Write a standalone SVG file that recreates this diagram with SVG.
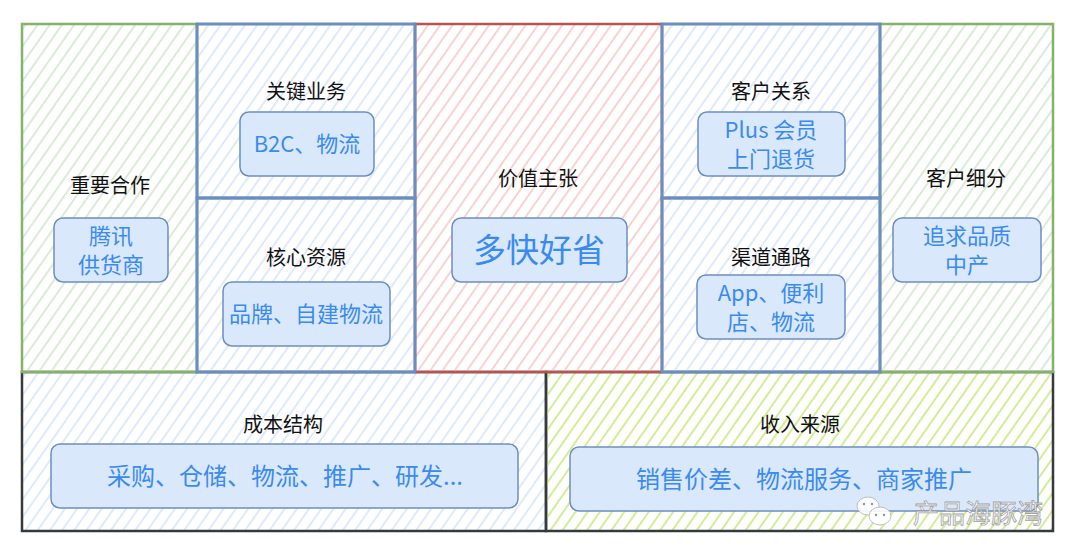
<svg xmlns="http://www.w3.org/2000/svg" width="1080" height="560" viewBox="0 0 1080 560">
<style>
.t{font-family:"Noto Sans CJK SC","Noto Sans",sans-serif;font-size:20px;fill:#111;text-anchor:middle}
.v{font-family:"Noto Sans CJK SC","Noto Sans",sans-serif;font-size:22px;fill:#3a8bef;text-anchor:middle}
.w{font-size:24px}
.box{fill:#dae8fc;stroke:#6c8ebf;stroke-width:1.5}
.g{stroke:#82b366;stroke-width:2.5}
.b{stroke:#6c8ebf;stroke-width:3}
.r{stroke:#b85450;stroke-width:2.5}
.k{stroke:#36393d;stroke-width:2.5}
</style>
<defs>
<pattern id="hg" width="10" height="10" patternUnits="userSpaceOnUse" patternTransform="rotate(35)"><line x1="5" y1="0" x2="5" y2="10" stroke="#cfe3cd" stroke-width="1.5"/></pattern>
<pattern id="hb" width="10" height="10" patternUnits="userSpaceOnUse" patternTransform="rotate(35)"><line x1="5" y1="0" x2="5" y2="10" stroke="#d3e3fa" stroke-width="1.5"/></pattern>
<pattern id="hr" width="10" height="10" patternUnits="userSpaceOnUse" patternTransform="rotate(35)"><line x1="5" y1="0" x2="5" y2="10" stroke="#f4c6c3" stroke-width="1.5"/></pattern>
<pattern id="hy" width="10" height="10" patternUnits="userSpaceOnUse" patternTransform="rotate(35)"><line x1="5" y1="0" x2="5" y2="10" stroke="#cdeb8b" stroke-width="1.8"/></pattern>
</defs>
<rect width="1080" height="560" fill="#fff"/>
<g id="cost">
<rect x="22" y="372" width="524" height="159" fill="url(#hb)" class="k"/>
<text class="t" x="283" y="432">成本结构</text>
<rect class="box" x="51" y="444" width="467" height="64" rx="9"/>
<text class="v w" x="285" y="485">采购、仓储、物流、推广、研发...</text>
</g>
<g id="revenue">
<rect x="546" y="372" width="507" height="159" fill="url(#hy)" class="k"/>
<text class="t" x="800" y="432">收入来源</text>
<rect class="box" x="570" y="447" width="468" height="64" rx="9"/>
<text class="v w" x="804" y="488">销售价差、物流服务、商家推广</text>
</g>
<g id="partners">
<rect x="22" y="24" width="175" height="348" fill="url(#hg)" class="g"/>
<text class="t" x="110" y="193">重要合作</text>
<rect class="box" x="54" y="218" width="114" height="64" rx="9"/>
<text class="v" x="111" y="244">腾讯</text>
<text class="v" x="111" y="273">供货商</text>
</g>
<g id="segments">
<rect x="880" y="24" width="173" height="348" fill="url(#hg)" class="g"/>
<text class="t" x="966" y="186">客户细分</text>
<rect class="box" x="893" y="218" width="148" height="64" rx="9"/>
<text class="v" x="967" y="244">追求品质</text>
<text class="v" x="967" y="273">中产</text>
</g>
<g id="value">
<rect x="415" y="24" width="247" height="348" fill="url(#hr)" class="r"/>
<text class="t" x="538" y="186">价值主张</text>
<rect class="box" x="452" y="218" width="175" height="64" rx="9"/>
<text class="v" x="539" y="262" style="font-size:33px">多快好省</text>
</g>
<g id="activities">
<rect x="197" y="24" width="218" height="174" fill="url(#hb)" class="b"/>
<text class="t" x="306" y="99">关键业务</text>
<rect class="box" x="240" y="112" width="134" height="64" rx="9"/>
<text class="v" x="307" y="152">B2C、物流</text>
</g>
<g id="resources">
<rect x="197" y="198" width="218" height="174" fill="url(#hb)" class="b"/>
<text class="t" x="306" y="265">核心资源</text>
<rect class="box" x="223" y="282" width="167" height="64" rx="9"/>
<text class="v" x="306" y="322">品牌、自建物流</text>
</g>
<g id="relations">
<rect x="662" y="24" width="218" height="174" fill="url(#hb)" class="b"/>
<text class="t" x="771" y="99">客户关系</text>
<rect class="box" x="698" y="112" width="147" height="64" rx="9"/>
<text class="v" x="771" y="138">Plus 会员</text>
<text class="v" x="771" y="167">上门退货</text>
</g>
<g id="channels">
<rect x="662" y="198" width="218" height="174" fill="url(#hb)" class="b"/>
<text class="t" x="771" y="265">渠道通路</text>
<rect class="box" x="697" y="275" width="148" height="64" rx="9"/>
<text class="v" x="771" y="301">App、便利</text>
<text class="v" x="771" y="330">店、物流</text>
</g>
<g id="connectors"></g>
<g id="watermark" opacity="0.9">
<ellipse cx="868" cy="506" rx="11" ry="9" fill="#fff" stroke="#bbb" stroke-width="1"/>
<ellipse cx="880" cy="516" rx="11" ry="9" fill="#fff" stroke="#bbb" stroke-width="1"/>
<circle cx="876" cy="515" r="1.2" fill="#888"/><circle cx="884" cy="515" r="1.2" fill="#888"/>
<circle cx="864" cy="504" r="1.2" fill="#888"/><circle cx="872" cy="504" r="1.2" fill="#888"/>
<text x="978" y="523" style="font-family:'Noto Sans CJK SC',sans-serif;font-size:26px;fill:#fff;stroke:#999;stroke-width:0.8;text-anchor:middle">产品海豚湾</text>
</g>
</svg>
